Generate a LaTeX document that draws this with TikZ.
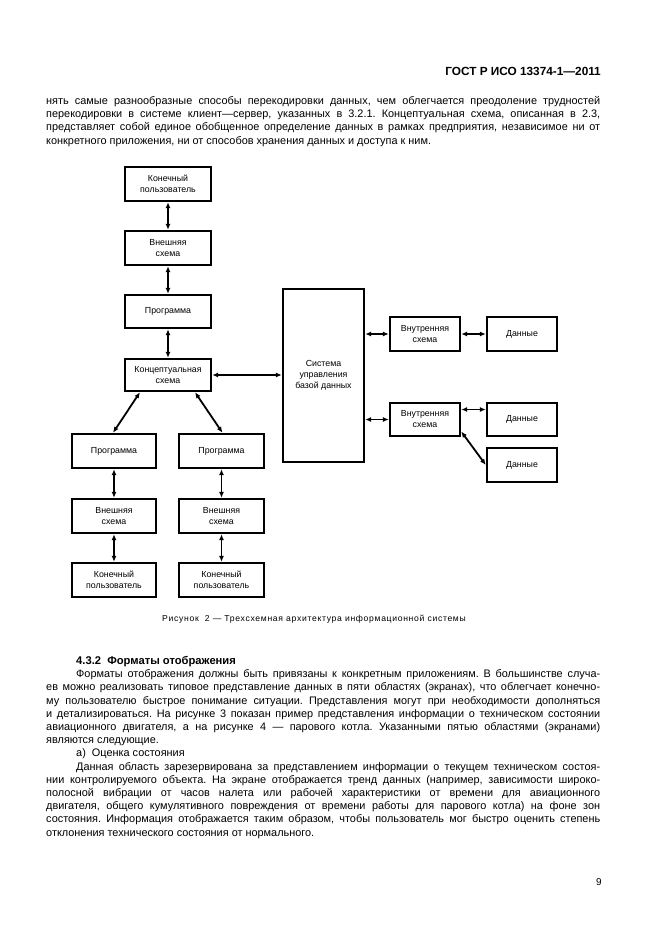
\documentclass[tikz,border=0pt]{standalone}
\usepackage{fontspec}
\setmainfont{Liberation Sans}
\usetikzlibrary{arrows.meta}
\newcommand\jl[2]{\makebox[#1pt][s]{#2}}
\frenchspacing
\begin{document}
\begin{tikzpicture}[x=1pt,y=-1pt,
  box/.style={draw,line width=2.4pt,inner sep=0pt,align=center,font=\fontsize{8.8}{11}\selectfont},
  link/.style={line width=1.8pt,{Latex[length=6pt,width=5pt]}-{Latex[length=6pt,width=5pt]}},
  txt/.style={anchor=base west,inner sep=0pt,font=\fontsize{10.9}{13.2}\selectfont},
  bold/.style={anchor=base west,inner sep=0pt,font=\bfseries\fontsize{11.2}{13.2}\selectfont}]
\useasboundingbox[fill=white] (0,0) rectangle (661,936);

% header
\node[anchor=base east,inner sep=0pt,font=\bfseries\fontsize{11.8}{13}\selectfont] (hdr) at (601,75.5) {ГОСТ Р ИСО 13374-1—2011};

% top paragraph
\node[txt] (t1) at (46,104.5) {\jl{554}{нять самые разнообразные способы перекодировки данных, чем облегчается преодоление трудностей}};
\node[txt] (t2) at (46,117.7) {\jl{554}{перекодировки в системе клиент—сервер, указанных в 3.2.1. Концептуальная схема, описанная в 2.3,}};
\node[txt] (t3) at (46,130.9) {\jl{554}{представляет собой единое обобщенное определение данных в рамках предприятия, независимое ни от}};
\node[txt] (t4) at (46,144.1) {конкретного приложения, ни от способов хранения данных и доступа к ним.};

% diagram boxes
\node[box,minimum width=86pt,minimum height=34pt] (eu1) at (168,184) {Конечный\\пользователь};
\node[box,minimum width=86pt,minimum height=34pt] (es1) at (168,248) {Внешняя\\схема};
\node[box,minimum width=86pt,minimum height=33pt] (p1) at (168,311.5) {Программа};
\node[box,minimum width=86pt,minimum height=32pt] (cs) at (168,375) {Концептуальная\\схема};
\node[box,minimum width=81pt,minimum height=173pt] (dbms) at (323.5,375.5) {Система\\управления\\базой данных};
\node[box,minimum width=70pt,minimum height=34pt] (is1) at (425,334) {Внутренняя\\схема};
\node[box,minimum width=70pt,minimum height=34pt] (d1) at (522,334) {Данные};
\node[box,minimum width=70pt,minimum height=33pt] (is2) at (425,419.5) {Внутренняя\\схема};
\node[box,minimum width=70pt,minimum height=33pt] (d2) at (522,419.5) {Данные};
\node[box,minimum width=70pt,minimum height=34pt] (d3) at (522,465) {Данные};
\node[box,minimum width=84pt,minimum height=34pt] (pl) at (114,451) {Программа};
\node[box,minimum width=85pt,minimum height=34pt] (pr) at (221.5,451) {Программа};
\node[box,minimum width=84pt,minimum height=34pt] (esl) at (114,516) {Внешняя\\схема};
\node[box,minimum width=85pt,minimum height=34pt] (esr) at (221.5,516) {Внешняя\\схема};
\node[box,minimum width=84pt,minimum height=34pt] (eul) at (114,580) {Конечный\\пользователь};
\node[box,minimum width=85pt,minimum height=34pt] (eur) at (221.5,580) {Конечный\\пользователь};

% connectors
\draw[link] (eu1) -- (es1);
\draw[link] (es1) -- (p1);
\draw[link] (p1) -- (cs);
\draw[link] (cs.east) -- (cs.east -| dbms.west);
\draw[link] ([xshift=-28pt]cs.south) -- ([xshift=-1pt]pl.north);
\draw[link] ([xshift=27pt]cs.south) -- ([xshift=1pt]pr.north);
\draw[link] (pl) -- (esl);
\draw[link] (esl) -- (eul);
\draw[link] (pr) -- (esr);
\draw[link] (esr) -- (eur);
\draw[link] (is1.west -| dbms.east) -- (is1.west);
\draw[link] (is1) -- (d1);
\draw[link] (is2.west -| dbms.east) -- (is2.west);
\draw[link] ([yshift=10pt]is2.east) -- ([yshift=10pt]is2.east -| d2.west);
\draw[link] ([yshift=-12pt]is2.east) -- (d3.west);

% caption
\node[anchor=base,inner sep=0pt,font=\fontsize{8.6}{10}\selectfont\addfontfeature{LetterSpace=8}] (cap) at (314,621) {Рисунок\ \ 2 — Трехсхемная архитектура информационной системы};

% section
\node[bold] (sec) at (76,664.5) {4.3.2\ \ Форматы отображения};
\node[txt] (b1) at (76,677.7) {\jl{524}{Форматы отображения должны быть привязаны к конкретным приложениям. В большинстве случа-}};
\node[txt] (b2) at (46,690.9) {\jl{554}{ев можно реализовать типовое представление данных в пяти областях (экранах), что облегчает конечно-}};
\node[txt] (b3) at (46,704.1) {\jl{554}{му пользователю быстрое понимание ситуации. Представления могут при необходимости дополняться}};
\node[txt] (b4) at (46,717.3) {\jl{554}{и детализироваться. На рисунке 3 показан пример представления информации о техническом состоянии}};
\node[txt] (b5) at (46,730.5) {\jl{554}{авиационного двигателя, а на рисунке 4 — парового котла. Указанными пятью областями (экранами)}};
\node[txt] (b6) at (46,743.7) {являются следующие.};
\node[txt] (b7) at (76,756.9) {а)\ \ Оценка состояния};
\node[txt] (b8) at (76,770.1) {\jl{524}{Данная область зарезервирована за представлением информации о текущем техническом состоя-}};
\node[txt] (b9) at (46,783.3) {\jl{554}{нии контролируемого объекта. На экране отображается тренд данных (например, зависимости широко-}};
\node[txt] (b10) at (46,796.5) {\jl{554}{полосной вибрации от часов налета или рабочей характеристики от времени для авиационного}};
\node[txt] (b11) at (46,809.7) {\jl{554}{двигателя, общего кумулятивного повреждения от времени работы для парового котла) на фоне зон}};
\node[txt] (b12) at (46,822.9) {\jl{554}{состояния. Информация отображается таким образом, чтобы пользователь мог быстро оценить степень}};
\node[txt] (b13) at (46,836.1) {отклонения технического состояния от нормального.};

% page number
\node[anchor=base east,inner sep=0pt,font=\fontsize{10}{12}\selectfont] (pg) at (602,885) {9};
\end{tikzpicture}
\end{document}
